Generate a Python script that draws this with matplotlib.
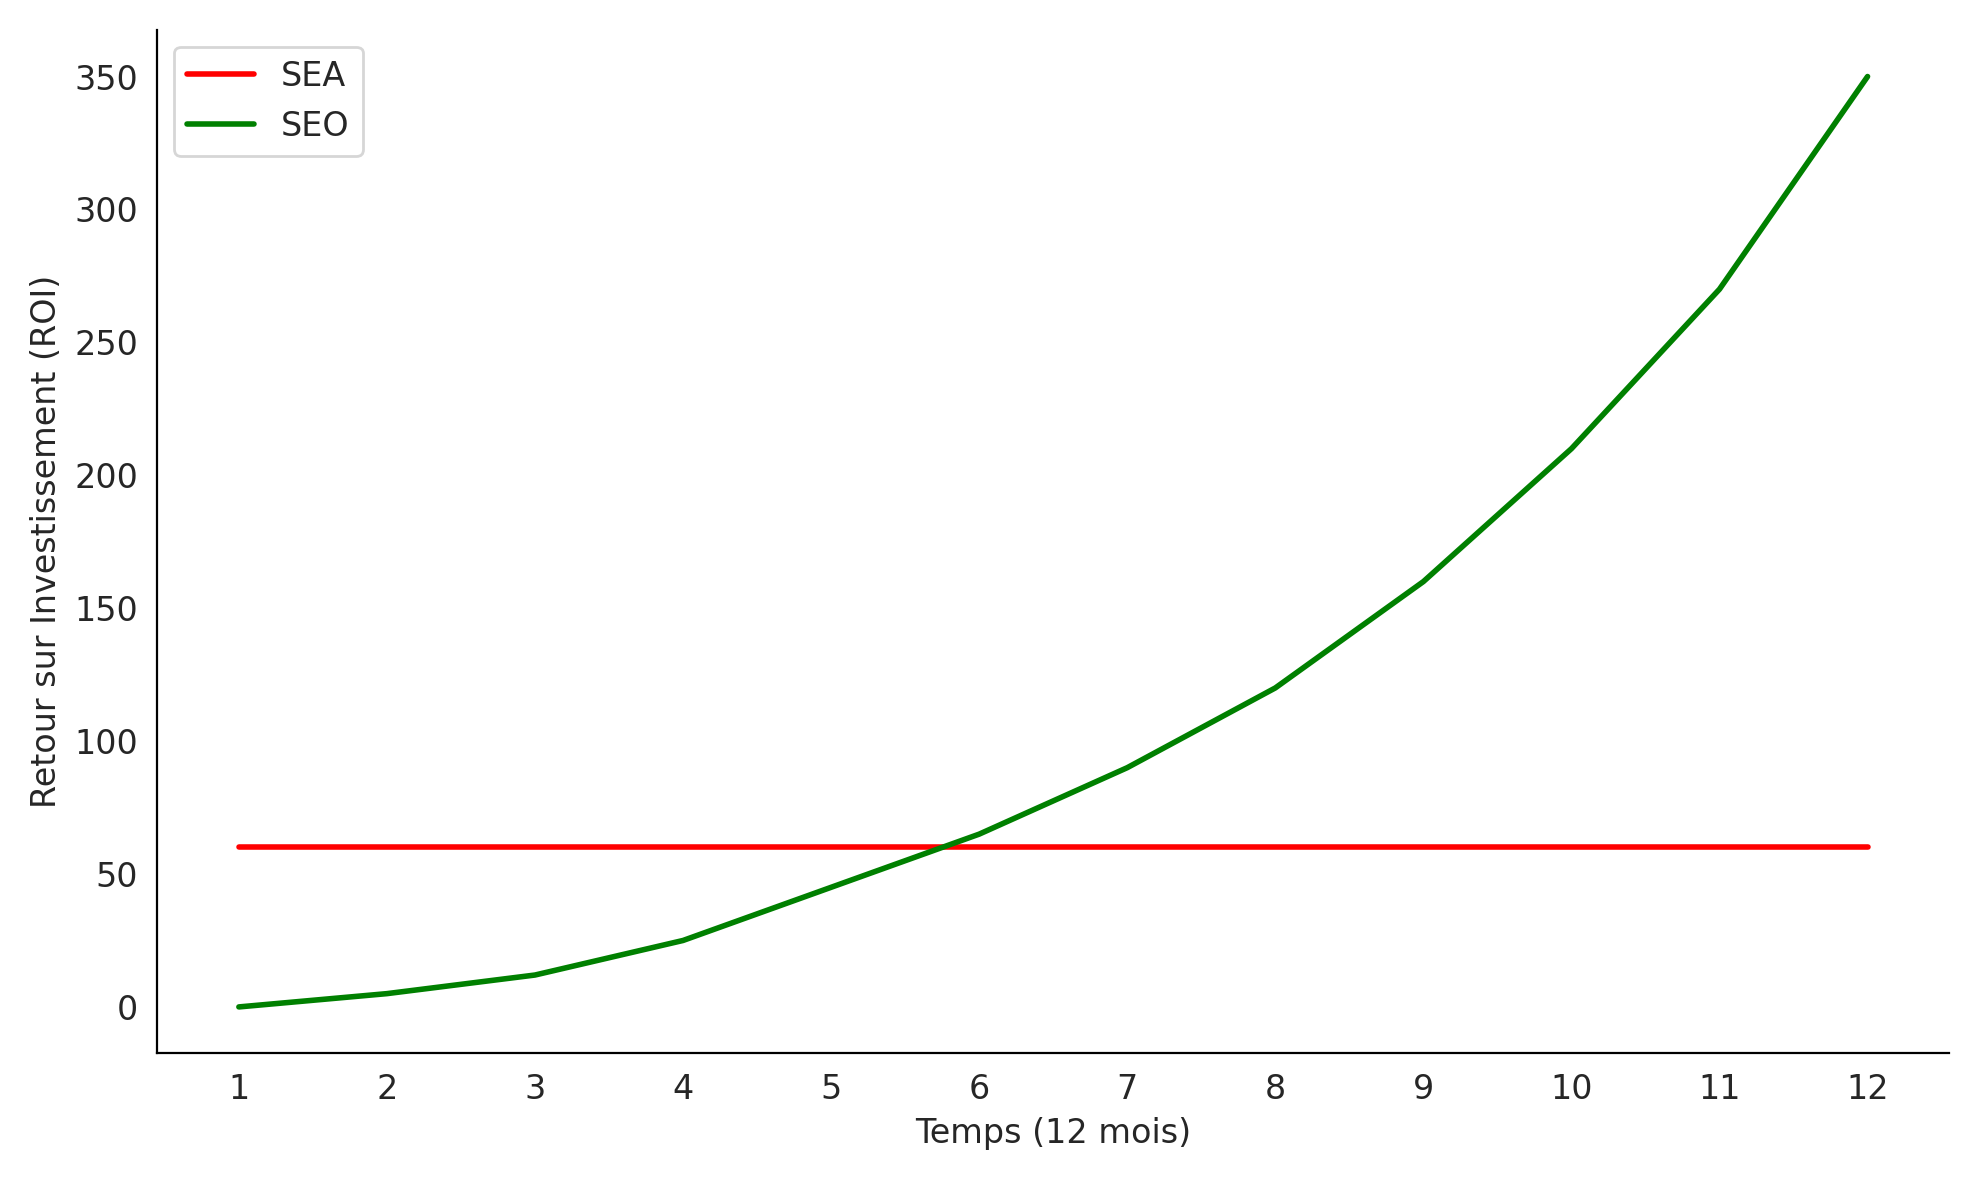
import matplotlib
matplotlib.use("Agg")
import matplotlib.pyplot as plt
import seaborn as sns

months = list(range(1, 13))
sea = [60] * 12
seo = [0, 5, 12, 25, 45, 65, 90, 120, 160, 210, 270, 350]

sns.set_style("white")
plt.rcParams['font.family'] = ['DejaVu Sans']
fig, ax = plt.subplots(figsize=(9.895, 5.9), dpi=200)
ax.plot(months, sea, color="red", lw=2, label="SEA")
ax.plot(months, seo, color="green", lw=2, label="SEO")
ax.set_xticks(months)
ax.set_xlabel("Temps (12 mois)", fontsize=12)
ax.set_ylabel("Retour sur Investissement (ROI)", fontsize=12)
ax.tick_params(labelsize=12)
for s in ["top", "right"]:
    ax.spines[s].set_visible(False)
for s in ["left", "bottom"]:
    ax.spines[s].set_color("black")
    ax.spines[s].set_linewidth(0.8)
ax.legend(loc="upper left", fontsize=12)
fig.tight_layout()
fig.savefig("out.png", dpi=200)
